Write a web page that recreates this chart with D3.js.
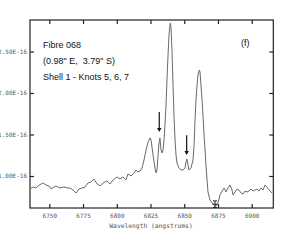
<!DOCTYPE html>
<html lang="en">
<head>
<meta charset="UTF-8">
<title>Fibre 068</title>
<style>
  body { margin: 0; background: #fff; }
  svg { display: block; }
  text { white-space: pre; }
</style>
</head>
<body>
<svg id="chart" width="308" height="243"></svg>
<script src="https://cdn.jsdelivr.net/npm/d3@7"></script>
<script>
// spectrum (wavelength in angstroms, flux in units of 1E-16)
var wavelength = [6735.7, 6737.9, 6740.1, 6741.6, 6743.9, 6745.3, 6747.6, 6749.8, 6751.3, 6753.5,
  6755.0, 6757.9, 6760.2, 6761.6, 6763.9, 6765.3, 6767.6, 6769.8, 6772.0, 6774.2,
  6776.5, 6778.7, 6780.9, 6783.1, 6785.4, 6787.6, 6789.8, 6792.8, 6795.0, 6797.2,
  6800.2, 6802.4, 6804.6, 6806.8, 6808.3, 6810.6, 6812.8, 6814.3, 6815.7, 6817.2,
  6818.7, 6820.2, 6821.7, 6823.2, 6824.7, 6825.4, 6826.9, 6828.3, 6829.1, 6829.8,
  6830.6, 6831.3, 6832.0, 6832.8, 6833.5, 6834.3, 6835.0, 6835.7, 6836.5, 6837.2,
  6838.0, 6838.7, 6839.5, 6839.8, 6840.2, 6840.9, 6841.7, 6842.4, 6843.2, 6843.9,
  6844.6, 6846.1, 6847.6, 6849.1, 6850.6, 6851.3, 6852.0, 6852.8, 6853.5, 6855.0,
  6856.5, 6857.3, 6858.0, 6858.7, 6859.5, 6860.2, 6861.2, 6861.7, 6862.4, 6863.2,
  6863.9, 6864.7, 6865.4, 6866.1, 6866.9, 6867.6, 6869.1, 6870.6, 6872.1, 6873.5,
  6875.0, 6876.5, 6878.0, 6879.5, 6881.0, 6882.4, 6883.9, 6885.4, 6886.2, 6887.6,
  6889.1, 6890.6, 6892.1, 6893.6, 6895.0, 6896.5, 6898.0, 6899.5, 6901.0, 6902.4,
  6903.9, 6905.4, 6906.9, 6908.4, 6909.9, 6911.3, 6913.6, 6915.1];
var flux = [0.843, 0.867, 0.855, 0.880, 0.904, 0.916, 0.892, 0.880, 0.843, 0.867,
  0.880, 0.855, 0.867, 0.867, 0.855, 0.855, 0.831, 0.795, 0.843, 0.855,
  0.867, 0.916, 0.928, 0.964, 0.904, 0.880, 0.916, 0.940, 0.904, 0.952,
  0.988, 0.964, 0.988, 0.952, 1.024, 1.000, 1.036, 1.072, 1.048, 1.060,
  1.096, 1.193, 1.313, 1.410, 1.458, 1.434, 1.253, 1.096, 1.036, 1.072,
  1.253, 1.398, 1.458, 1.313, 1.277, 1.313, 1.434, 1.614, 1.855, 2.157,
  2.458, 2.699, 2.831, 2.843, 2.795, 2.518, 2.096, 1.735, 1.434, 1.253,
  1.157, 1.096, 1.072, 1.072, 1.096, 1.169, 1.205, 1.133, 1.072, 1.096,
  1.193, 1.373, 1.675, 1.916, 2.096, 2.217, 2.277, 2.253, 2.096, 1.916,
  1.735, 1.494, 1.313, 1.133, 0.952, 0.807, 0.711, 0.675, 0.651, 0.639,
  0.675, 0.771, 0.819, 0.855, 0.807, 0.855, 0.892, 0.831, 0.771, 0.807,
  0.843, 0.831, 0.795, 0.783, 0.819, 0.807, 0.819, 0.843, 0.819, 0.831,
  0.843, 0.819, 0.855, 0.831, 0.892, 0.867, 0.819, 0.795];

var xTicks = [6750, 6775, 6800, 6825, 6850, 6875, 6900];
var yTicks = [1.0, 1.5, 2.0, 2.5];

// arrows marking the weak lines: wavelength, tail flux, tip flux
var arrowAt = [6831.5, 6851.8];
var arrowTail = [1.77, 1.49];
var arrowTip = [1.53, 1.253];

var labelLines = ["Fibre 068", "(0.98\" E,  3.79\" S)", "Shell 1 - Knots 5, 6, 7"];

var svg = d3.select("#chart");
var x = d3.scaleLinear().domain([6735.7, 6916]).range([30, 273.3]);
var y = d3.scaleLinear().domain([0.6145, 2.8795]).range([208, 20]);

var monoFont = "'DejaVu Sans Mono', monospace";

// bottom axis with labels
var gx = svg.append("g").attr("transform", "translate(0,208)")
  .call(d3.axisBottom(x).tickValues(xTicks).tickSize(-4).tickPadding(6).tickFormat(d3.format("d")));
// left axis with labels
var gy = svg.append("g").attr("transform", "translate(30,0)")
  .call(d3.axisLeft(y).tickValues(yTicks).tickSize(-4).tickPadding(3).tickFormat(d => d.toFixed(2) + "E-16"));
// top and right: ticks only
var gt = svg.append("g").attr("transform", "translate(0,20)")
  .call(d3.axisTop(x).tickValues(xTicks).tickSize(-4).tickFormat(""));
var gr = svg.append("g").attr("transform", "translate(273.3,0)")
  .call(d3.axisRight(y).tickValues(yTicks).tickSize(-4).tickFormat(""));

[gx, gy, gt, gr].forEach(function (g) {
  g.select(".domain").remove();
  g.selectAll(".tick line").attr("stroke", "#222").attr("stroke-width", 1.2);
  g.selectAll(".tick text").attr("font-family", monoFont).attr("font-size", 6).attr("fill", "#555");
});

// frame
svg.append("rect")
  .attr("x", x.range()[0]).attr("y", y.range()[1])
  .attr("width", x.range()[1] - x.range()[0]).attr("height", y.range()[0] - y.range()[1])
  .attr("fill", "none").attr("stroke", "#222").attr("stroke-width", 1.2);

// spectrum
var line = d3.line().x(i => x(wavelength[i])).y(i => y(flux[i]));
svg.append("path")
  .attr("d", line(d3.range(wavelength.length)))
  .attr("fill", "none").attr("stroke", "#6a6a6a").attr("stroke-width", 1);

// arrows
arrowAt.forEach(function (w, i) {
  var ax = x(w), y0 = y(arrowTail[i]), y1 = y(arrowTip[i]);
  svg.append("line").attr("x1", ax).attr("x2", ax).attr("y1", y0).attr("y2", y1 - 3)
    .attr("stroke", "#111").attr("stroke-width", 1.2);
  svg.append("path").attr("d", `M${ax - 2.2},${y1 - 4}L${ax + 2.2},${y1 - 4}L${ax},${y1}Z`).attr("fill", "#111");
});

// small error bar symbol near the trough
var ex = x(6872.8), eTop = y(0.70), eBot = y(0.615), eMid = y(0.66);
svg.append("path")
  .attr("d", `M${ex},${eTop}V${eBot}M${ex - 2},${eTop}H${ex + 2}M${ex - 2.5},${eMid}H${ex + 2.5}M${ex - 2},${eBot - 0.5}H${ex + 2}`)
  .attr("fill", "none").attr("stroke", "#222").attr("stroke-width", 1);

// annotation text
svg.append("g").selectAll("text").data(labelLines).join("text")
  .attr("x", 43).attr("y", (d, i) => 48 + i * 16)
  .attr("font-family", "'Liberation Sans', Arial, sans-serif").attr("font-size", 9).attr("fill", "#111")
  .text(d => d);

svg.append("text").attr("x", 241).attr("y", 46)
  .attr("font-family", "'Liberation Sans', Arial, sans-serif").attr("font-size", 9).attr("fill", "#111")
  .text("(f)");

svg.append("text").attr("x", 151).attr("y", 228).attr("text-anchor", "middle")
  .attr("font-family", monoFont).attr("font-size", 6.3).attr("fill", "#555")
  .text("Wavelength (angstroms)");
</script>
</body>
</html>
